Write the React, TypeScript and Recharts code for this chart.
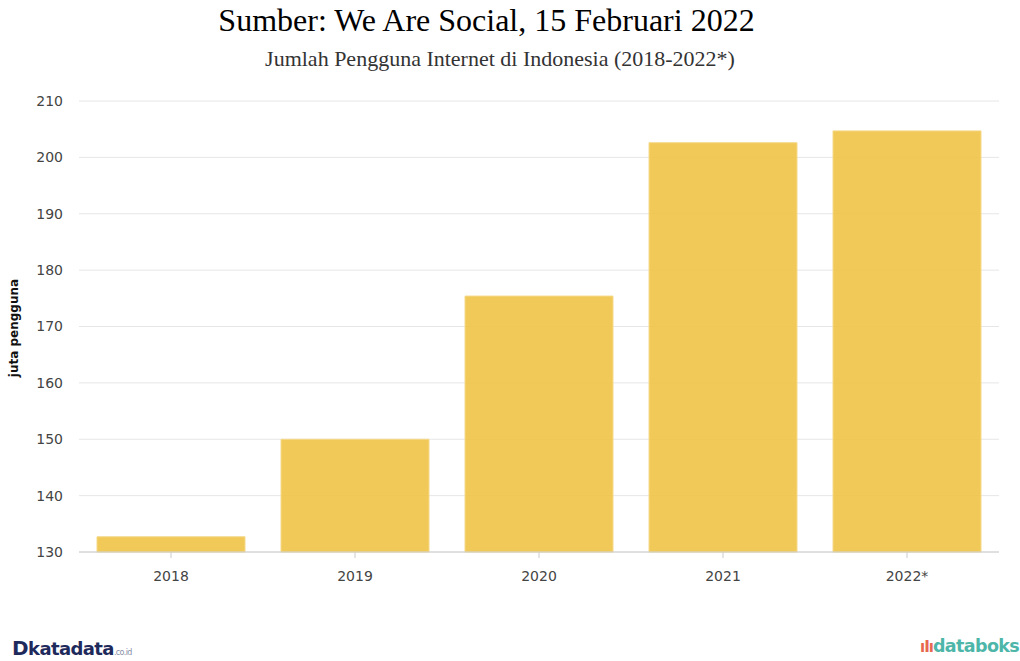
import React from 'react';
import { BarChart, Bar, XAxis, YAxis, CartesianGrid } from 'recharts';

const YEARS = ['2018', '2019', '2020', '2021', '2022*'];
const USERS = [132.7, 150.0, 175.4, 202.6, 204.7];
const Y_TICKS = [130, 140, 150, 160, 170, 180, 190, 200, 210];

const data = YEARS.map((year, i) => ({ year, users: USERS[i] }));

const tickStyle = { fill: '#444', fontSize: 14, fontFamily: '"DejaVu Sans", Verdana, sans-serif' };

export default function App() {
  return (
    <div style={{ position: 'absolute', left: 0, top: 0, width: 1020, height: 661, background: '#fff', overflow: 'hidden' }}>
      <div style={{ position: 'absolute', left: 0, width: 973, top: 1, textAlign: 'center', fontFamily: '"Liberation Serif", "Times New Roman", serif', fontSize: 32, color: '#000', lineHeight: '38px' }}>
        Sumber: We Are Social, 15 Februari 2022
      </div>
      <div style={{ position: 'absolute', left: 0, width: 1000, top: 46, textAlign: 'center', fontFamily: '"Liberation Serif", "Times New Roman", serif', fontSize: 22, color: '#333', lineHeight: '26px' }}>
        Jumlah Pengguna Internet di Indonesia (2018-2022*)
      </div>
      <div style={{ position: 'absolute', left: 14, top: 328, transform: 'translate(-50%, -50%) rotate(-90deg)', whiteSpace: 'nowrap', fontFamily: '"DejaVu Sans", Verdana, sans-serif', fontWeight: 'bold', fontSize: 12, color: '#111' }}>
        juta pengguna
      </div>
      <div style={{ position: 'absolute', left: 0, top: 0 }}>
        <BarChart width={1020} height={661} data={data} margin={{ top: 101, right: 21, left: 0, bottom: 79 }} barCategoryGap={18}>
          <CartesianGrid vertical={false} stroke="#e6e6e6" />
          <XAxis dataKey="year" tick={tickStyle} tickLine={{ stroke: '#ccc' }} axisLine={{ stroke: '#ccc' }} tickSize={6} tickMargin={13} />
          <YAxis domain={[130, 210]} ticks={Y_TICKS} width={79} tick={tickStyle} axisLine={false} tickLine={false} tickSize={0} tickMargin={16} interval={0} />
          <Bar dataKey="users" fill="#efc346" fillOpacity={0.9} stroke="#f5d98a" strokeWidth={1} isAnimationActive={false} />
        </BarChart>
      </div>
      <div style={{ position: 'absolute', left: 12, top: 636, fontFamily: '"DejaVu Sans", Verdana, sans-serif', fontWeight: 'bold', color: '#1f2a5c', fontSize: 18, letterSpacing: -0.6 }}>
        <span style={{ fontSize: 20 }}>D</span>katadata<span style={{ fontSize: 8, fontWeight: 'normal', color: '#8a90a8' }}>.co.id</span>
      </div>
      <div style={{ position: 'absolute', left: 920, top: 636, fontFamily: '"DejaVu Sans", Verdana, sans-serif', fontWeight: 600, color: '#4db6a9', fontSize: 17.5, letterSpacing: -0.6 }}>
        <span style={{ color: '#e8674f', fontSize: 15, letterSpacing: -1 }}>ıIı</span>databoks
      </div>
    </div>
  );
}
